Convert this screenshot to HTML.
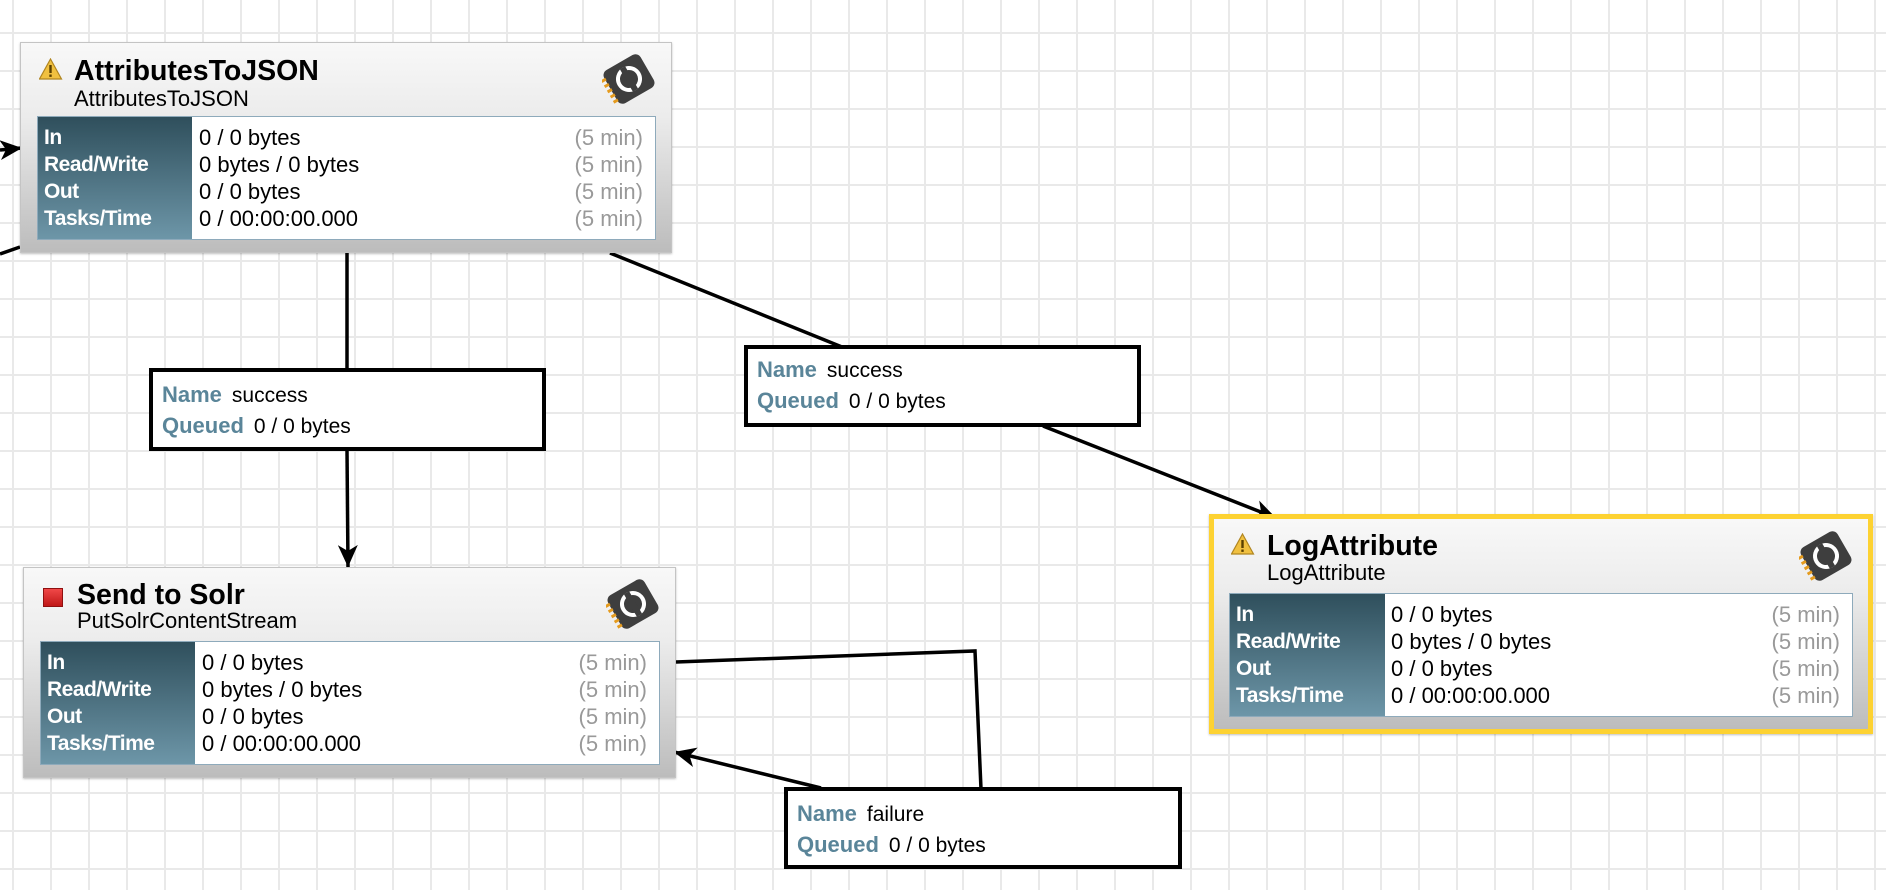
<!DOCTYPE html>
<html><head><meta charset="utf-8"><style>
html,body{margin:0;padding:0}
body{width:1886px;height:890px;position:relative;overflow:hidden;background:#fff;
background-image:linear-gradient(90deg,#e9e9e9 2px,transparent 2px),linear-gradient(#e9e9e9 2px,transparent 2px);
background-size:38px 38px;background-position:12px 32px;font-family:"Liberation Sans",Arial,sans-serif}
.abs{position:absolute}
.node{position:absolute;box-sizing:border-box;border:1px solid #c4c4c4;background:linear-gradient(#f8f8f8 0%,#ececec 35%,#bcbcbc 100%);box-shadow:0 1px 2px rgba(0,0,0,.25)}
.title{position:absolute;font-weight:bold;font-size:28.5px;line-height:28px;color:#000;white-space:nowrap}
.sub{position:absolute;font-size:22px;line-height:22px;color:#000;white-space:nowrap}
.tbl{position:absolute;height:124px;box-sizing:border-box;border:1px solid #8eaabb;background:#fff}
.lc{position:absolute;left:0;top:0;bottom:0;width:154px;background:linear-gradient(#2f4f5c,#6d96a8)}
.row{position:absolute;left:0;right:0;height:22px;font-size:22px;line-height:22px;white-space:nowrap}
.row .k{position:absolute;left:6px;color:#fff;font-weight:bold;font-size:21px;letter-spacing:-0.5px}
.row .v{position:absolute;left:161px;color:#000}
.row .m{position:absolute;right:12px;color:#999}
.lbl{position:absolute;box-sizing:border-box;border:4px solid #000;background:#fff}
.lbl div{position:absolute;left:9px;font-size:21px;line-height:21px;white-space:nowrap;color:#000}
.lbl b{color:#5a8599;font-size:22px;margin-right:10px}
</style></head><body>

<svg class="abs" style="left:0;top:0" width="1886" height="890">
<defs><marker id="ah" markerUnits="userSpaceOnUse" markerWidth="24" markerHeight="20" refX="22" refY="10" orient="auto">
<path d="M0,0 L22,10 L0,20 L6,10 z" fill="#000"/></marker></defs>
<g stroke="#000" stroke-width="3.5" fill="none">
<line x1="0" y1="150" x2="22" y2="148" marker-end="url(#ah)"/>
<line x1="0" y1="254" x2="20" y2="247"/>
<line x1="347" y1="253" x2="347" y2="370"/>
<line x1="347" y1="450" x2="348" y2="567" marker-end="url(#ah)"/>
<line x1="610" y1="253" x2="842" y2="347"/>
<line x1="1043" y1="426" x2="1276" y2="518" marker-end="url(#ah)"/>
<polyline points="676,662 975,651 981,789"/>
<line x1="821" y1="788" x2="674" y2="752" marker-end="url(#ah)"/>
</g></svg>

<svg width="0" height="0" style="position:absolute"><defs>
<g id="warn"><path d="M11.5,1 L22.5,21 L0.5,21 Z" fill="#f0c040" stroke="#b08520" stroke-width="1.2"/><rect x="10.3" y="7" width="2.4" height="8" fill="#5a4000"/><rect x="10.3" y="16.5" width="2.4" height="2.4" fill="#5a4000"/></g>
<g id="proc"><g transform="rotate(-30 27 25)">
<rect x="6" y="6" width="42" height="38" rx="6" fill="#3e3e3e"/>
<g fill="#e59b1e"><rect x="2" y="12" width="5" height="3"/><rect x="2" y="18" width="5" height="3"/><rect x="2" y="24" width="5" height="3"/><rect x="2" y="30" width="5" height="3"/><rect x="2" y="36" width="5" height="3"/></g>
<circle cx="27" cy="25" r="11" fill="none" stroke="#fff" stroke-width="4"/>
<rect x="24" y="12" width="6" height="26" fill="#3e3e3e"/>
</g></g>
</defs></svg>

<!-- Node 1 -->
<div class="node" style="left:20px;top:42px;width:652px;height:211px">
<svg class="abs" style="left:18px;top:15px" width="24" height="23"><use href="#warn"/></svg>
<svg class="abs" style="left:581px;top:11px" width="56" height="54"><use href="#proc"/></svg>
<div class="title" style="left:53px;top:14px">AttributesToJSON</div>
<div class="sub" style="left:53px;top:45px">AttributesToJSON</div>
<div class="tbl" style="left:16px;top:73px;width:619px">
<div class="lc"></div>
<div class="row" style="top:10px"><span class="k">In</span><span class="v">0 / 0 bytes</span><span class="m">(5 min)</span></div>
<div class="row" style="top:37px"><span class="k">Read/Write</span><span class="v">0 bytes / 0 bytes</span><span class="m">(5 min)</span></div>
<div class="row" style="top:64px"><span class="k">Out</span><span class="v">0 / 0 bytes</span><span class="m">(5 min)</span></div>
<div class="row" style="top:91px"><span class="k">Tasks/Time</span><span class="v">0 / 00:00:00.000</span><span class="m">(5 min)</span></div>
</div></div>

<!-- Node 2 -->
<div class="node" style="left:23px;top:567px;width:653px;height:211px">
<div class="abs" style="left:19px;top:20px;width:18px;height:17px;background:linear-gradient(#f04848,#c01818);border:1px solid #901010"></div>
<svg class="abs" style="left:582px;top:11px" width="56" height="54"><use href="#proc"/></svg>
<div class="title" style="left:53px;top:13px">Send to Solr</div>
<div class="sub" style="left:53px;top:42px">PutSolrContentStream</div>
<div class="tbl" style="left:16px;top:73px;width:620px">
<div class="lc"></div>
<div class="row" style="top:10px"><span class="k">In</span><span class="v">0 / 0 bytes</span><span class="m">(5 min)</span></div>
<div class="row" style="top:37px"><span class="k">Read/Write</span><span class="v">0 bytes / 0 bytes</span><span class="m">(5 min)</span></div>
<div class="row" style="top:64px"><span class="k">Out</span><span class="v">0 / 0 bytes</span><span class="m">(5 min)</span></div>
<div class="row" style="top:91px"><span class="k">Tasks/Time</span><span class="v">0 / 00:00:00.000</span><span class="m">(5 min)</span></div>
</div></div>

<!-- Node 3 -->
<div class="node" style="left:1209px;top:514px;width:664px;height:220px;border:5px solid #fdd232">
<svg class="abs" style="left:17px;top:14px" width="24" height="23"><use href="#warn"/></svg>
<svg class="abs" style="left:585px;top:12px" width="56" height="54"><use href="#proc"/></svg>
<div class="title" style="left:53px;top:13px">LogAttribute</div>
<div class="sub" style="left:53px;top:43px">LogAttribute</div>
<div class="tbl" style="left:15px;top:74px;width:624px">
<div class="lc" style="width:155px"></div>
<div class="row" style="top:10px"><span class="k">In</span><span class="v">0 / 0 bytes</span><span class="m">(5 min)</span></div>
<div class="row" style="top:37px"><span class="k">Read/Write</span><span class="v">0 bytes / 0 bytes</span><span class="m">(5 min)</span></div>
<div class="row" style="top:64px"><span class="k">Out</span><span class="v">0 / 0 bytes</span><span class="m">(5 min)</span></div>
<div class="row" style="top:91px"><span class="k">Tasks/Time</span><span class="v">0 / 00:00:00.000</span><span class="m">(5 min)</span></div>
</div></div>

<!-- Labels -->
<div class="lbl" style="left:149px;top:368px;width:397px;height:83px">
<div style="top:12px"><b>Name</b>success</div>
<div style="top:43px"><b>Queued</b>0 / 0 bytes</div></div>
<div class="lbl" style="left:744px;top:345px;width:397px;height:82px">
<div style="top:10px"><b>Name</b>success</div>
<div style="top:41px"><b>Queued</b>0 / 0 bytes</div></div>
<div class="lbl" style="left:784px;top:787px;width:398px;height:82px">
<div style="top:12px"><b>Name</b>failure</div>
<div style="top:43px"><b>Queued</b>0 / 0 bytes</div></div>
</body></html>
